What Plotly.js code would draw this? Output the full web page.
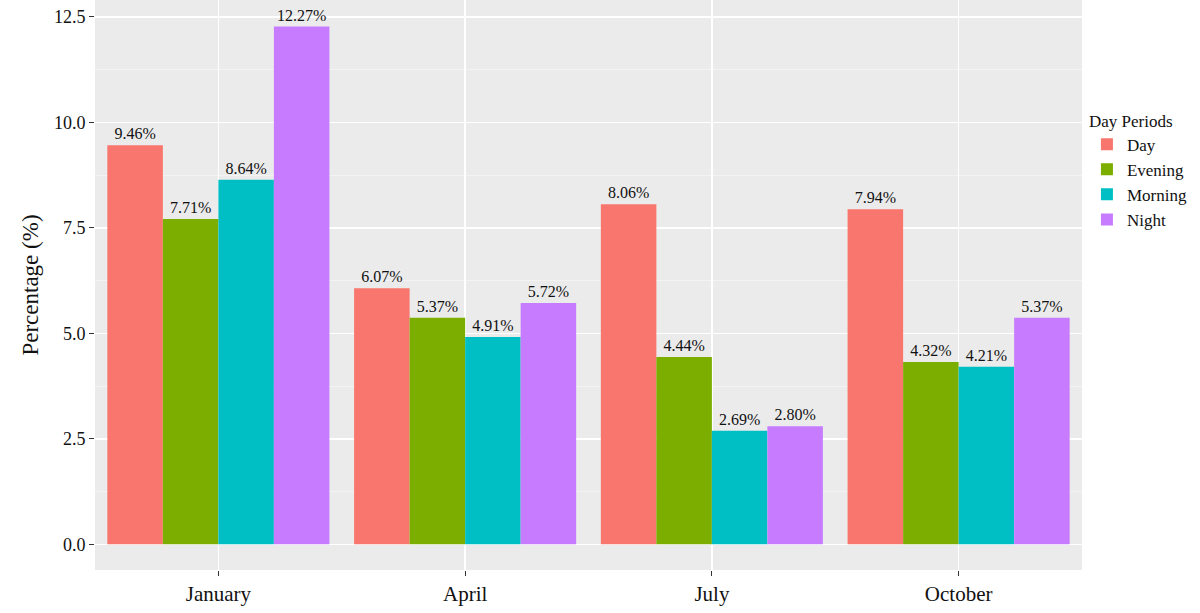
<!DOCTYPE html>
<html>
<head>
<meta charset="utf-8">
<script src="https://cdn.plot.ly/plotly-3.0.1.min.js"></script>
<style>html,body{margin:0;padding:0;background:#fff}#plot{width:1200px;height:613px}</style>
</head>
<body>
<div id="plot"></div>
<script>
const months = ['January', 'April', 'July', 'October'];
const periods = ['Day', 'Evening', 'Morning', 'Night'];
const colors = ['#F8766D', '#7CAE00', '#00BFC4', '#C77CFF'];
const dayVals = [9.46, 6.07, 8.06, 7.94];
const eveningVals = [7.71, 5.37, 4.44, 4.32];
const morningVals = [8.64, 4.91, 2.69, 4.21];
const nightVals = [12.27, 5.72, 2.80, 5.37];
const series = [dayVals, eveningVals, morningVals, nightVals];

const traces = series.map((vals, i) => ({
  type: 'bar',
  name: periods[i],
  x: months,
  y: vals,
  text: vals.map(v => v.toFixed(2) + '%'),
  textposition: 'outside',
  cliponaxis: false,
  textfont: { family: 'Liberation Serif, serif', size: 16, color: '#111' },
  marker: { color: colors[i] },
  hoverinfo: 'none',
}));

const layout = {
  barmode: 'group',
  bargap: 0.1,
  bargroupgap: 0,
  paper_bgcolor: '#fff',
  plot_bgcolor: '#EBEBEB',
  font: { family: 'Liberation Serif, serif', color: '#111' },
  margin: { l: 95, r: 118, t: 0, b: 43 },
  xaxis: {
    type: 'category',
    showgrid: true,
    gridcolor: '#fff',
    gridwidth: 1.5,
    ticks: 'outside',
    ticklen: 5,
    tickcolor: '#333',
    tickfont: { size: 21, color: '#111' },
    zeroline: false,
  },
  yaxis: {
    range: [-0.61, 12.9],
    tickvals: [0, 2.5, 5, 7.5, 10, 12.5],
    ticktext: ['0.0', '2.5', '5.0', '7.5', '10.0', '12.5'],
    showgrid: true,
    gridcolor: '#fff',
    gridwidth: 1.5,
    minor: { tickvals: [1.25, 3.75, 6.25, 8.75, 11.25], showgrid: true, gridcolor: '#F5F5F5', gridwidth: 0.8 },
    ticks: 'outside',
    ticklen: 5,
    tickcolor: '#333',
    tickfont: { size: 18, color: '#111' },
    zeroline: false,
    title: { text: 'Percentage (%)', font: { size: 23 }, standoff: 8 },
  },
  legend: {
    x: 1.005, y: 0.7, xanchor: 'left', yanchor: 'middle',
    title: { text: 'Day Periods', font: { size: 17 } },
    font: { size: 17 },
    bgcolor: 'rgba(0,0,0,0)',
    traceorder: 'normal',
  },
  showlegend: true,
};

Plotly.newPlot('plot', traces, layout, { displayModeBar: false, staticPlot: true });
</script>
</body>
</html>
